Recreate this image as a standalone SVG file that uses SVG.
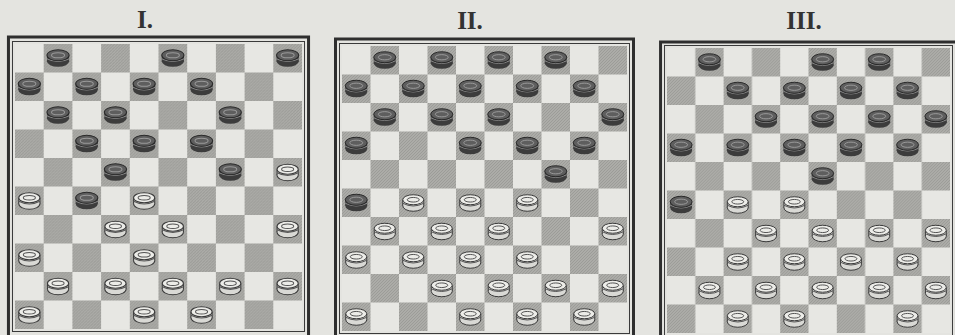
<svg xmlns="http://www.w3.org/2000/svg" xmlns:xlink="http://www.w3.org/1999/xlink" width="955" height="335" viewBox="0 0 955 335">
<style>
.ttl{font-family:"Liberation Serif","DejaVu Serif",serif;font-size:25px;font-weight:bold;fill:#333;text-anchor:middle}
.thin{fill:none;stroke:#3a3a3a;stroke-width:1}
.thick{fill:none;stroke:#2e2e2e;stroke-width:3}
</style>
<defs>
<pattern id="hatch" patternUnits="userSpaceOnUse" width="3" height="3">
<rect width="3" height="3" fill="#acaca8"/>
<path d="M0,3 L3,0" stroke="#989894" stroke-width="0.8"/>
</pattern>
<pattern id="chk" patternUnits="userSpaceOnUse" width="57" height="57">
<rect width="57" height="57" fill="#e7e7e3"/>
<rect x="28.5" y="0" width="28.5" height="28.5" fill="url(#hatch)"/>
<rect x="0" y="28.5" width="28.5" height="28.5" fill="url(#hatch)"/>
</pattern>
<g id="b">
<ellipse cx="0" cy="3" rx="11" ry="5.5" fill="#3c3c3c"/>
<rect x="-11" y="-3" width="22" height="6" fill="#3c3c3c"/>
<path d="M-11,0.5 Q0,6 11,0.5" fill="none" stroke="#8a8a8a" stroke-width="1"/>
<ellipse cx="0" cy="-3" rx="11" ry="5.5" fill="#5e5e5e" stroke="#2a2a2a" stroke-width="1"/>
<ellipse cx="0" cy="-3" rx="6.5" ry="2.6" fill="none" stroke="#9a9a9a" stroke-width="1"/>
</g>
<g id="w">
<ellipse cx="0" cy="3" rx="10.5" ry="5.5" fill="#d9d9d5" stroke="#3a3a3a" stroke-width="1"/>
<rect x="-10.5" y="-3" width="21" height="6" fill="#d9d9d5"/>
<line x1="-10.5" y1="-3" x2="-10.5" y2="3" stroke="#3a3a3a" stroke-width="1"/>
<line x1="10.5" y1="-3" x2="10.5" y2="3" stroke="#3a3a3a" stroke-width="1"/>
<path d="M-10.5,0.5 Q0,6 10.5,0.5" fill="none" stroke="#555" stroke-width="1"/>
<ellipse cx="0" cy="-3" rx="10.5" ry="5" fill="#ececE8" stroke="#3a3a3a" stroke-width="1"/>
<ellipse cx="0" cy="-3" rx="6" ry="2.3" fill="none" stroke="#555" stroke-width="1"/>
</g>
</defs>
<rect width="955" height="335" fill="#e4e4e0"/>
<text class="ttl" x="145" y="28">I.</text>
<text class="ttl" x="470" y="29">II.</text>
<text class="ttl" x="804" y="29">III.</text>

<g id="board1" transform="translate(15,44) scale(1.007,1)">
<rect x="-6.5" y="-7" width="298" height="300" class="thick"/>
<rect x="-2.5" y="-2.5" width="290" height="290" class="thin"/>
<rect width="285" height="285" fill="url(#chk)"/>
<g id="b1-black">
<use href="#b" x="42.75" y="14.25"/><use href="#b" x="156.75" y="14.25"/><use href="#b" x="270.75" y="14.25"/>
<use href="#b" x="14.25" y="42.75"/><use href="#b" x="71.25" y="42.75"/><use href="#b" x="128.25" y="42.75"/><use href="#b" x="185.25" y="42.75"/>
<use href="#b" x="42.75" y="71.25"/><use href="#b" x="99.75" y="71.25"/><use href="#b" x="213.75" y="71.25"/>
<use href="#b" x="71.25" y="99.75"/><use href="#b" x="128.25" y="99.75"/><use href="#b" x="185.25" y="99.75"/>
<use href="#b" x="99.75" y="128.25"/><use href="#b" x="213.75" y="128.25"/>
<use href="#b" x="71.25" y="156.75"/>
</g>
<g id="b1-white">
<use href="#w" x="270.75" y="128.25"/>
<use href="#w" x="14.25" y="156.75"/><use href="#w" x="128.25" y="156.75"/>
<use href="#w" x="99.75" y="185.25"/><use href="#w" x="156.75" y="185.25"/><use href="#w" x="270.75" y="185.25"/>
<use href="#w" x="14.25" y="213.75"/><use href="#w" x="128.25" y="213.75"/>
<use href="#w" x="42.75" y="242.25"/><use href="#w" x="99.75" y="242.25"/><use href="#w" x="156.75" y="242.25"/><use href="#w" x="213.75" y="242.25"/><use href="#w" x="270.75" y="242.25"/>
<use href="#w" x="14.25" y="270.75"/><use href="#w" x="128.25" y="270.75"/><use href="#w" x="185.25" y="270.75"/>
</g>
</g>

<g id="board2" transform="translate(342,46)">
<rect x="-6.5" y="-7" width="298" height="300" class="thick"/>
<rect x="-2.5" y="-2.5" width="290" height="290" class="thin"/>
<rect width="285" height="285" fill="url(#chk)"/>
<g id="b2-black">
<use href="#b" x="42.75" y="14.25"/><use href="#b" x="99.75" y="14.25"/><use href="#b" x="156.75" y="14.25"/><use href="#b" x="213.75" y="14.25"/>
<use href="#b" x="14.25" y="42.75"/><use href="#b" x="71.25" y="42.75"/><use href="#b" x="128.25" y="42.75"/><use href="#b" x="185.25" y="42.75"/><use href="#b" x="242.25" y="42.75"/>
<use href="#b" x="42.75" y="71.25"/><use href="#b" x="99.75" y="71.25"/><use href="#b" x="156.75" y="71.25"/><use href="#b" x="270.75" y="71.25"/>
<use href="#b" x="14.25" y="99.75"/><use href="#b" x="128.25" y="99.75"/><use href="#b" x="185.25" y="99.75"/><use href="#b" x="242.25" y="99.75"/>
<use href="#b" x="213.75" y="128.25"/>
<use href="#b" x="14.25" y="156.75"/>
</g>
<g id="b2-white">
<use href="#w" x="71.25" y="156.75"/><use href="#w" x="128.25" y="156.75"/><use href="#w" x="185.25" y="156.75"/>
<use href="#w" x="42.75" y="185.25"/><use href="#w" x="99.75" y="185.25"/><use href="#w" x="156.75" y="185.25"/><use href="#w" x="270.75" y="185.25"/>
<use href="#w" x="14.25" y="213.75"/><use href="#w" x="71.25" y="213.75"/><use href="#w" x="128.25" y="213.75"/><use href="#w" x="185.25" y="213.75"/>
<use href="#w" x="99.75" y="242.25"/><use href="#w" x="156.75" y="242.25"/><use href="#w" x="213.75" y="242.25"/><use href="#w" x="270.75" y="242.25"/>
<use href="#w" x="14.25" y="270.75"/><use href="#w" x="128.25" y="270.75"/><use href="#w" x="185.25" y="270.75"/><use href="#w" x="242.25" y="270.75"/>
</g>
</g>

<g id="board3" transform="translate(667,48) scale(0.993,1)">
<rect x="-6.5" y="-6" width="298" height="300" class="thick"/>
<rect x="-2.5" y="-2.5" width="290" height="290" class="thin"/>
<rect width="285" height="285" fill="url(#chk)"/>
<g id="b3-black">
<use href="#b" x="42.75" y="14.25"/><use href="#b" x="156.75" y="14.25"/><use href="#b" x="213.75" y="14.25"/>
<use href="#b" x="71.25" y="42.75"/><use href="#b" x="128.25" y="42.75"/><use href="#b" x="185.25" y="42.75"/><use href="#b" x="242.25" y="42.75"/>
<use href="#b" x="99.75" y="71.25"/><use href="#b" x="156.75" y="71.25"/><use href="#b" x="213.75" y="71.25"/><use href="#b" x="270.75" y="71.25"/>
<use href="#b" x="14.25" y="99.75"/><use href="#b" x="71.25" y="99.75"/><use href="#b" x="128.25" y="99.75"/><use href="#b" x="185.25" y="99.75"/><use href="#b" x="242.25" y="99.75"/>
<use href="#b" x="156.75" y="128.25"/>
<use href="#b" x="14.25" y="156.75"/>
</g>
<g id="b3-white">
<use href="#w" x="71.25" y="156.75"/><use href="#w" x="128.25" y="156.75"/>
<use href="#w" x="99.75" y="185.25"/><use href="#w" x="156.75" y="185.25"/><use href="#w" x="213.75" y="185.25"/><use href="#w" x="270.75" y="185.25"/>
<use href="#w" x="71.25" y="213.75"/><use href="#w" x="128.25" y="213.75"/><use href="#w" x="185.25" y="213.75"/><use href="#w" x="242.25" y="213.75"/>
<use href="#w" x="42.75" y="242.25"/><use href="#w" x="99.75" y="242.25"/><use href="#w" x="156.75" y="242.25"/><use href="#w" x="213.75" y="242.25"/><use href="#w" x="270.75" y="242.25"/>
<use href="#w" x="71.25" y="270.75"/><use href="#w" x="128.25" y="270.75"/><use href="#w" x="242.25" y="270.75"/>
</g>
</g>
</svg>
